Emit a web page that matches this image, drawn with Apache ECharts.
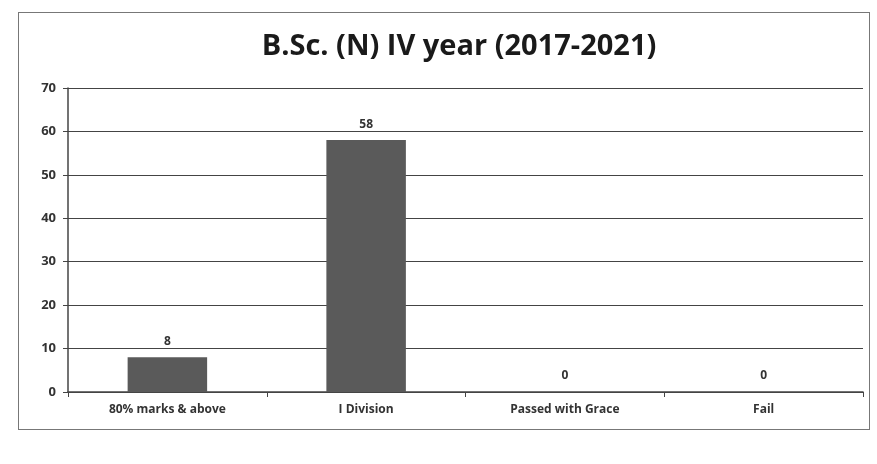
<!DOCTYPE html>
<html><head><meta charset="utf-8">
<script src="https://cdn.jsdelivr.net/npm/echarts@6/dist/echarts.min.js"></script>
<style>
html,body{margin:0;padding:0;background:#fff;}
#frame{position:absolute;left:18px;top:12px;width:852px;height:418px;border:1.5px solid #777;box-sizing:border-box;}
#c{position:absolute;left:0;top:0;width:877px;height:464px;}
</style></head><body>
<div id="frame"></div>
<div id="c"></div>
<script>
const titleText = 'B.Sc. (N) IV year (2017-2021)';
const categories = ['80% marks & above', 'I Division', 'Passed with Grace', 'Fail'];
const values = [8, 58, 0, 0];
const yTicks = {min: 0, max: 70, interval: 10};

const chart = echarts.init(document.getElementById('c'));
chart.setOption({
  backgroundColor: 'transparent',
  title: {text: titleText, left: 454, top: 27, textAlign: 'center',
    textStyle: {fontFamily: 'Open Sans', fontWeight: 'bold', fontSize: 29, color: '#1a1a1a'}},
  grid: {left: 68, right: 14, top: 88, bottom: 72},
  xAxis: {type: 'category', data: categories,
    axisLine: {lineStyle: {color: '#444', width: 1.5}},
    axisTick: {show: true, length: 5, lineStyle: {color: '#444'}},
    axisLabel: {fontFamily: 'Open Sans', fontWeight: 'bold', fontSize: 12, color: '#333', margin: 12}},
  yAxis: {type: 'value', min: yTicks.min, max: yTicks.max, interval: yTicks.interval,
    axisLine: {show: true, lineStyle: {color: '#444', width: 1.5}},
    axisTick: {show: true, length: 5, lineStyle: {color: '#444'}},
    splitLine: {lineStyle: {color: '#444', width: 1.2}},
    axisLabel: {fontFamily: 'Open Sans', fontWeight: 'bold', fontSize: 13, color: '#333', margin: 12}},
  series: [{type: 'bar', data: values, barWidth: '40%',
    itemStyle: {color: '#5a5a5a'},
    label: {show: true, position: 'top', distance: 10, fontFamily: 'Open Sans', fontWeight: 'bold', fontSize: 12, color: '#333'}}]
});
</script></body></html>
